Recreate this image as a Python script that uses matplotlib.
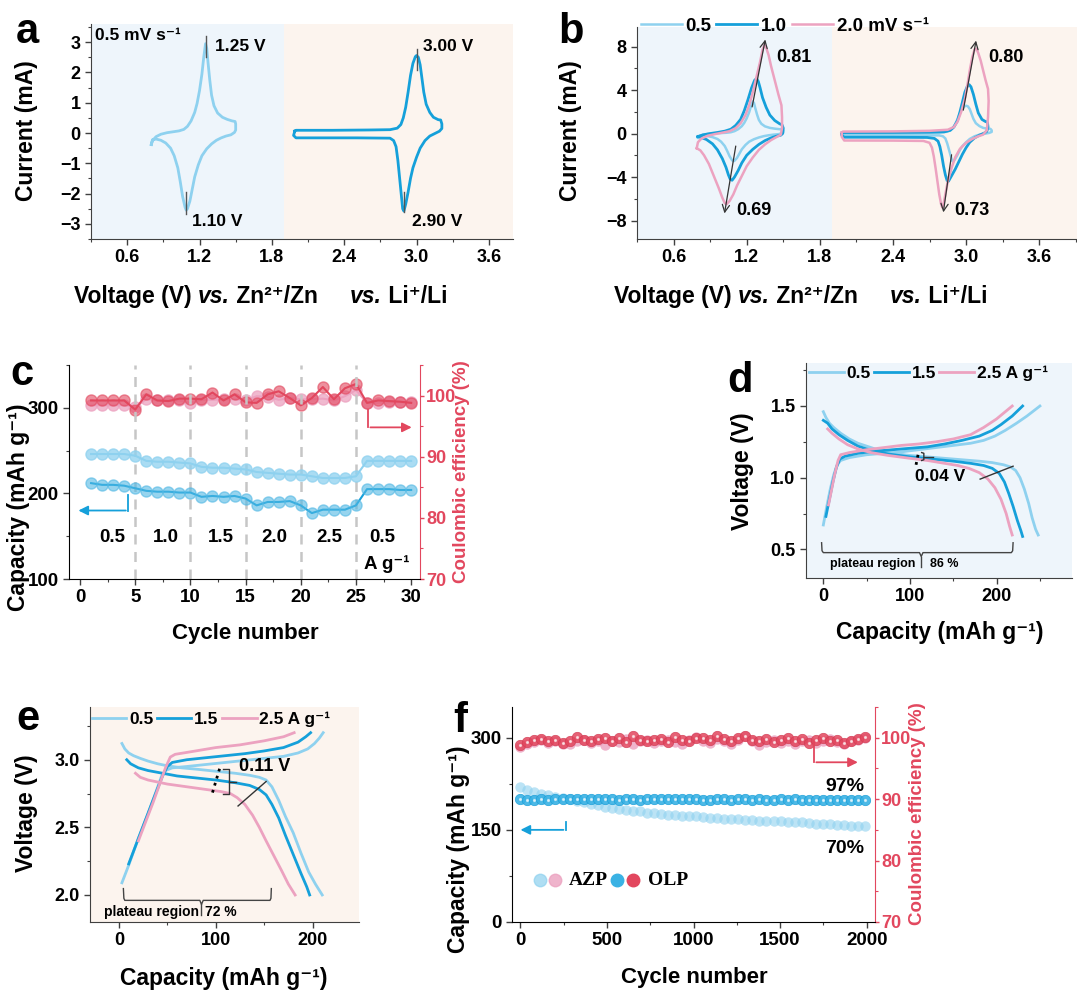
import numpy as np
import matplotlib
matplotlib.use('Agg')
import matplotlib.pyplot as plt
from matplotlib.ticker import MultipleLocator

plt.rcParams['font.family'] = ['Liberation Sans', 'DejaVu Sans']
plt.rcParams['font.weight'] = 'bold'
plt.rcParams['axes.labelweight'] = 'bold'

NARROW = ['Liberation Sans Narrow', 'Liberation Sans', 'DejaVu Sans']
LBLUE = '#8ed1ef'
BLUE = '#15a0da'
PINK = '#eca2c0'
RED = '#e2475e'
BG_BLUE = '#eef5fb'
BG_PEACH = '#fcf4ee'
SPINE = '#404040'

# ---------------- data ----------------
# (a)/(b) CV at 0.5 mV/s, (V, mA)
cv_zn_05 = [(0.80, -0.38), (0.81, -0.25), (0.84, -0.12), (0.88, -0.04), (0.93, 0.01), (0.98, 0.04),
            (1.03, 0.07), (1.07, 0.12), (1.10, 0.22), (1.13, 0.40), (1.16, 0.68), (1.18, 0.98),
            (1.20, 1.40), (1.22, 1.95), (1.235, 2.50), (1.25, 2.95), (1.26, 2.80), (1.27, 2.35),
            (1.285, 1.75), (1.30, 1.25), (1.32, 0.90), (1.35, 0.66), (1.39, 0.52), (1.43, 0.45),
            (1.47, 0.40), (1.495, 0.38), (1.50, 0.30), (1.50, 0.10), (1.49, 0.02), (1.46, -0.06),
            (1.42, -0.10), (1.38, -0.16), (1.34, -0.24), (1.30, -0.36), (1.26, -0.52), (1.22, -0.75),
            (1.19, -1.05), (1.16, -1.45), (1.14, -1.85), (1.12, -2.25), (1.10, -2.50), (1.09, -2.55),
            (1.08, -2.45), (1.06, -2.10), (1.04, -1.60), (1.02, -1.15), (0.99, -0.75), (0.96, -0.50),
            (0.92, -0.33), (0.88, -0.24), (0.84, -0.20), (0.81, -0.22), (0.80, -0.38)]
cv_li_05 = [(1.99, 0.06), (2.00, 0.09), (2.30, 0.09), (2.60, 0.10), (2.78, 0.11), (2.84, 0.16),
            (2.87, 0.28), (2.89, 0.50), (2.91, 0.85), (2.93, 1.35), (2.95, 1.90), (2.97, 2.30),
            (2.99, 2.52), (3.00, 2.56), (3.015, 2.50), (3.03, 2.25), (3.045, 1.80), (3.06, 1.35),
            (3.08, 0.95), (3.11, 0.68), (3.14, 0.52), (3.18, 0.44), (3.20, 0.43), (3.21, 0.30),
            (3.21, 0.15), (3.19, 0.06), (3.15, -0.02), (3.11, -0.10), (3.07, -0.25), (3.03, -0.50),
            (3.00, -0.80), (2.97, -1.15), (2.95, -1.50), (2.93, -1.95), (2.91, -2.35), (2.895, -2.58),
            (2.885, -2.50), (2.875, -2.10), (2.86, -1.50), (2.845, -0.90), (2.83, -0.45), (2.81, -0.25),
            (2.78, -0.17), (2.50, -0.16), (2.20, -0.16), (2.00, -0.16), (1.98, -0.08), (1.99, 0.06)]
# (b) CV at 1.0 and 2.0 mV/s
cv_zn_10 = [(0.80, -0.28), (0.84, -0.12), (0.90, 0.00), (0.96, 0.10), (1.02, 0.22), (1.07, 0.40),
            (1.11, 0.75), (1.15, 1.30), (1.18, 2.10), (1.21, 3.10), (1.24, 4.20), (1.265, 4.90),
            (1.28, 5.05), (1.295, 4.80), (1.31, 4.20), (1.33, 3.30), (1.36, 2.40), (1.39, 1.70),
            (1.43, 1.20), (1.47, 0.90), (1.49, 0.80), (1.50, 0.50), (1.495, 0.00), (1.48, -0.15),
            (1.44, -0.25), (1.40, -0.40), (1.35, -0.65), (1.30, -1.00), (1.25, -1.45), (1.20, -2.00),
            (1.16, -2.70), (1.13, -3.40), (1.10, -4.00), (1.08, -4.30), (1.065, -4.20), (1.05, -3.80),
            (1.03, -3.10), (1.00, -2.30), (0.96, -1.50), (0.92, -0.95), (0.87, -0.55), (0.83, -0.38),
            (0.80, -0.28)]
cv_zn_20 = [(0.79, -1.35), (0.80, -0.80), (0.83, -0.45), (0.88, -0.20), (0.94, -0.05), (1.00, 0.08),
            (1.06, 0.22), (1.11, 0.50), (1.15, 0.95), (1.19, 1.70), (1.22, 2.60), (1.25, 3.80),
            (1.28, 5.20), (1.31, 6.60), (1.33, 7.70), (1.345, 8.15), (1.36, 7.90), (1.38, 7.20),
            (1.40, 6.20), (1.43, 4.90), (1.46, 3.60), (1.485, 2.60), (1.49, 1.50), (1.49, 0.50),
            (1.48, -0.10), (1.44, -0.35), (1.40, -0.60), (1.35, -1.00), (1.30, -1.50), (1.25, -2.20),
            (1.20, -3.00), (1.16, -3.90), (1.12, -4.80), (1.09, -5.60), (1.06, -6.20), (1.035, -6.50),
            (1.02, -6.40), (1.00, -5.90), (0.97, -5.00), (0.93, -3.90), (0.89, -2.80), (0.85, -2.00),
            (0.82, -1.55), (0.79, -1.35)]
cv_li_10 = [(1.98, 0.03), (1.99, 0.09), (2.40, 0.10), (2.70, 0.12), (2.82, 0.15), (2.87, 0.30),
            (2.90, 0.60), (2.93, 1.20), (2.95, 2.00), (2.97, 2.90), (2.99, 3.80), (3.01, 4.35),
            (3.025, 4.50), (3.04, 4.30), (3.06, 3.60), (3.08, 2.70), (3.10, 1.90), (3.13, 1.30),
            (3.16, 1.10), (3.175, 1.05), (3.18, 0.60), (3.17, 0.20), (3.15, 0.05), (3.11, -0.15),
            (3.07, -0.40), (3.03, -0.80), (3.00, -1.30), (2.97, -1.90), (2.94, -2.60), (2.91, -3.30),
            (2.88, -3.90), (2.855, -4.40), (2.845, -4.35), (2.83, -3.80), (2.815, -3.00), (2.80, -2.00),
            (2.785, -1.20), (2.77, -0.70), (2.74, -0.45), (2.68, -0.36), (2.40, -0.34), (2.00, -0.34),
            (1.98, -0.15), (1.98, 0.03)]
cv_li_20 = [(1.98, 0.10), (1.99, 0.18), (2.40, 0.20), (2.70, 0.25), (2.85, 0.35), (2.90, 0.60),
            (2.93, 1.10), (2.96, 2.00), (2.99, 3.20), (3.01, 4.40), (3.03, 5.80), (3.05, 7.00),
            (3.07, 7.75), (3.085, 7.80), (3.10, 7.40), (3.12, 6.70), (3.14, 5.80), (3.16, 4.90),
            (3.18, 4.10), (3.185, 3.00), (3.18, 1.50), (3.17, 0.30), (3.14, -0.10), (3.10, -0.25),
            (3.05, -0.50), (3.00, -0.85), (2.95, -1.40), (2.91, -2.20), (2.88, -3.20), (2.85, -4.40),
            (2.83, -5.60), (2.815, -6.50), (2.805, -6.80), (2.795, -6.50), (2.78, -5.60), (2.765, -4.40),
            (2.75, -3.20), (2.735, -2.10), (2.72, -1.30), (2.70, -0.85), (2.65, -0.68), (2.40, -0.65),
            (2.00, -0.64), (1.98, -0.30), (1.98, 0.10)]

# (c) rate performance
rate_cycles = np.arange(1, 31)
cap_azp_c = [246, 246, 246, 246, 244, 238, 237, 237, 236, 235, 231, 230, 230, 229, 228,
             225, 224, 223, 222, 222, 220, 218, 218, 218, 220, 238, 238, 238, 238, 238]
cap_olp_c = [212, 210, 210, 209, 206, 203, 202, 202, 201, 201, 196, 197, 196, 197, 194,
             186, 190, 190, 191, 186, 177, 181, 181, 181, 186, 205, 205, 205, 204, 204]
ce_olp_c = [99.2, 99.2, 99.2, 99.2, 97.7, 100.2, 99.2, 99.1, 99.5, 99.5, 99.4, 100.5, 99.2, 100.2, 98.9,
            98.8, 100.2, 100.7, 99.6, 98.4, 99.6, 101.4, 99.4, 101.2, 101.9, 98.8, 99.2, 99.1, 99.0, 98.8]
ce_azp_c = [98.4, 98.4, 98.4, 98.4, 98.1, 99.4, 99.2, 99.2, 99.2, 98.8, 99.3, 99.3, 99.4, 99.4, 99.2,
            99.9, 99.8, 99.3, 99.6, 99.4, 99.4, 99.5, 99.2, 99.9, 100.9, 98.8, 98.8, 98.9, 98.9, 98.9]
rate_labels = ['0.5', '1.0', '1.5', '2.0', '2.5', '0.5']
rate_label_x = [2.95, 7.8, 12.75, 17.6, 22.6, 27.4]

# (d) GCD vs Zn, (mAh/g, V)
d_dis = {
    '0.5': [(0, 1.46), (3, 1.42), (7, 1.38), (12, 1.35), (20, 1.31), (30, 1.27), (40, 1.24), (50, 1.22),
            (65, 1.19), (80, 1.17), (100, 1.155), (120, 1.145), (140, 1.135), (160, 1.125), (180, 1.115),
            (195, 1.105), (208, 1.09), (216, 1.075), (222, 1.05), (227, 1.00), (232, 0.92), (237, 0.82),
            (241, 0.72), (245, 0.64), (248, 0.60)],
    '1.5': [(0, 1.40), (5, 1.38), (10, 1.34), (18, 1.30), (28, 1.26), (40, 1.22), (55, 1.19), (75, 1.165),
            (100, 1.145), (125, 1.13), (150, 1.115), (170, 1.10), (185, 1.085), (195, 1.065), (203, 1.03),
            (209, 0.97), (214, 0.89), (219, 0.80), (224, 0.70), (228, 0.63), (230, 0.59)],
    '2.5': [(5, 1.34), (10, 1.31), (18, 1.27), (28, 1.23), (40, 1.20), (55, 1.175), (75, 1.155),
            (100, 1.135), (120, 1.12), (140, 1.10), (155, 1.085), (168, 1.065), (180, 1.035), (190, 0.99),
            (198, 0.93), (205, 0.85), (211, 0.75), (215, 0.66), (218, 0.60)],
}
d_chg = {
    '0.5': [(0, 0.67), (4, 0.80), (8, 0.92), (12, 1.02), (16, 1.09), (20, 1.12), (30, 1.14), (50, 1.16),
            (70, 1.17), (90, 1.18), (110, 1.195), (130, 1.21), (150, 1.225), (170, 1.24), (185, 1.26),
            (198, 1.29), (210, 1.33), (223, 1.38), (235, 1.43), (250, 1.50)],
    '1.5': [(3, 0.73), (7, 0.85), (11, 0.97), (15, 1.07), (19, 1.13), (25, 1.15), (40, 1.17), (60, 1.185),
            (80, 1.195), (100, 1.205), (120, 1.215), (140, 1.235), (160, 1.26), (180, 1.29), (195, 1.33),
            (205, 1.37), (218, 1.43), (230, 1.50)],
    '2.5': [(6, 0.81), (9, 0.90), (13, 1.02), (17, 1.12), (20, 1.16), (30, 1.175), (50, 1.195), (70, 1.21),
            (90, 1.225), (110, 1.235), (130, 1.25), (150, 1.27), (170, 1.30), (185, 1.35), (200, 1.41),
            (210, 1.46), (218, 1.50)],
}
# (e) GCD vs Li
e_dis = {
    '0.5': [(3, 3.12), (6, 3.08), (10, 3.05), (15, 3.03), (22, 3.01), (30, 2.99), (40, 2.97), (50, 2.955),
            (65, 2.94), (80, 2.93), (100, 2.915), (120, 2.90), (135, 2.885), (145, 2.87), (152, 2.85),
            (158, 2.80), (165, 2.70), (172, 2.58), (180, 2.46), (188, 2.31), (196, 2.17), (203, 2.08),
            (210, 2.00)],
    '1.5': [(8, 3.00), (12, 2.97), (20, 2.94), (30, 2.92), (45, 2.90), (60, 2.88), (80, 2.865), (100, 2.85),
            (120, 2.83), (135, 2.81), (145, 2.78), (152, 2.74), (158, 2.67), (165, 2.57), (172, 2.44),
            (180, 2.30), (188, 2.16), (194, 2.06), (197, 2.00)],
    '2.5': [(17, 2.90), (22, 2.87), (30, 2.85), (40, 2.835), (50, 2.82), (70, 2.80), (90, 2.78),
            (105, 2.765), (115, 2.75), (122, 2.72), (130, 2.67), (138, 2.59), (145, 2.50), (152, 2.40),
            (160, 2.29), (168, 2.18), (175, 2.08), (182, 2.00)],
}
e_chg = {
    '0.5': [(3, 2.09), (10, 2.22), (20, 2.42), (30, 2.60), (38, 2.76), (44, 2.88), (48, 2.92), (55, 2.94),
            (70, 2.95), (90, 2.965), (110, 2.98), (130, 2.995), (150, 3.01), (170, 3.025), (185, 3.05),
            (195, 3.08), (202, 3.12), (207, 3.16), (211, 3.20)],
    '1.5': [(10, 2.23), (18, 2.38), (26, 2.53), (34, 2.68), (40, 2.79), (45, 2.88), (50, 2.95), (55, 2.98),
            (70, 3.00), (90, 3.015), (110, 3.03), (130, 3.045), (150, 3.065), (170, 3.09), (185, 3.13),
            (193, 3.17), (198, 3.20)],
    '2.5': [(20, 2.40), (28, 2.55), (35, 2.68), (42, 2.82), (48, 2.94), (53, 3.02), (58, 3.04), (75, 3.06),
            (100, 3.09), (125, 3.11), (150, 3.14), (170, 3.17), (181, 3.20)],
}
gcd_colors = {'0.5': LBLUE, '1.5': BLUE, '2.5': PINK}

# (f) long cycling
long_cycles = np.linspace(0, 1990, 50)
cap_azp_f = [219, 215, 212, 209, 206, 204, 202, 200, 197, 195, 192, 190, 187, 185, 184, 182, 181,
             180, 178, 177, 176, 175, 174, 173, 172, 172, 171, 170, 169, 168, 168, 167, 166, 166,
             165, 165, 164, 164, 163, 162, 162, 161, 160, 160, 159, 158, 158, 157, 156, 156]
cap_olp_f = [200, 199, 199, 200, 199, 200, 201, 200, 200, 201, 200, 200, 201, 200, 199, 200, 200,
             199, 200, 201, 201, 200, 200, 201, 200, 200, 199, 199, 200, 200, 199, 200, 200, 199,
             200, 199, 199, 200, 199, 200, 199, 199, 198, 199, 199, 198, 199, 198, 199, 199]
ce_olp_f = [98.8, 99.3, 99.6, 99.8, 99.4, 99.7, 99.2, 99.5, 100.1, 99.6, 99.4, 99.8, 100.0, 99.5,
            99.9, 99.3, 100.2, 99.7, 99.4, 99.6, 99.8, 99.3, 100.1, 99.7, 99.5, 99.9, 100.0, 99.6,
            100.2, 99.8, 99.4, 99.9, 100.3, 99.7, 99.5, 99.8, 99.3, 99.7, 100.0, 99.4, 99.8, 99.2,
            99.7, 99.9, 99.4, 99.6, 99.1, 99.5, 99.8, 100.1]
ce_azp_f = [98.5, 99.0, 99.3, 99.6, 99.2, 99.5, 99.0, 98.9, 99.4, 99.7, 99.1, 99.4, 98.8, 99.5,
            99.3, 99.8, 99.0, 99.5, 99.6, 99.2, 99.4, 99.7, 99.3, 99.0, 99.6, 100.1, 99.4, 99.2,
            99.8, 99.5, 99.0, 99.7, 100.2, 99.5, 98.8, 99.3, 99.6, 99.2, 99.5, 99.0, 99.4, 99.7,
            99.1, 99.5, 99.8, 99.3, 99.0, 99.4, 99.6, 99.9]

# ---------------- figure ----------------
W, H = 1077, 992
fig = plt.figure(figsize=(W / 100, H / 100), dpi=100)
renderer = fig.canvas.get_renderer()
LABEL = 16.5
TICK = 13


def box(l, t, r, b):
    return [l / W, 1 - b / H, (r - l) / W, (b - t) / H]


def ftext(x, y, s, **kw):
    return fig.text(x / W, 1 - y / H, s, **kw)


def rich(x, y, pieces, size):
    # pieces of text laid side by side, some italic
    for s, style_ in pieces:
        t = ftext(x, y, s, fontsize=size, va='center', style=style_)
        x += t.get_window_extent(renderer=renderer).width


def style(ax, spines=('left', 'bottom'), size=TICK, family=None):
    for s in ax.spines:
        ax.spines[s].set_visible(s in spines)
        ax.spines[s].set_color(SPINE)
    ax.tick_params(which='major', direction='out', length=4, width=1, color=SPINE, labelsize=size, pad=3.5)
    ax.tick_params(which='minor', direction='out', length=2.5, width=0.8, color=SPINE)
    if family:
        for lab in ax.get_xticklabels() + ax.get_yticklabels():
            lab.set_family(family)


def red_axis(ax2):
    ax2.spines['right'].set_color(RED)
    ax2.tick_params(axis='y', which='both', colors=RED, pad=1.5)
    ax2.tick_params(axis='y', which='major', length=3)
    ax2.tick_params(axis='y', which='minor', length=2)


def xy(pts):
    a = np.array(pts)
    return a[:, 0], a[:, 1]


VLAB = [('Voltage (V) ', 'normal'), ('vs.', 'italic'), (' Zn²⁺/Zn     ', 'normal'),
        ('vs.', 'italic'), (' Li⁺/Li', 'normal')]
CAPLAB = 'Capacity (mAh g⁻¹)'

# ---- a ----
ax = fig.add_axes(box(91, 24, 513, 239))
ax.axvspan(0.3, 1.9, color=BG_BLUE, lw=0, zorder=0)
ax.axvspan(1.9, 3.8, color=BG_PEACH, lw=0, zorder=0)
ax.plot(*xy(cv_zn_05), color=LBLUE, lw=2)
ax.plot(*xy(cv_li_05), color=BLUE, lw=2)
ax.set_xlim(0.3, 3.8)
ax.set_ylim(-3.5, 3.6)
ax.set_xticks([0.6, 1.2, 1.8, 2.4, 3.0, 3.6])
ax.set_xticklabels(['0.6', '1.2', '1.8', '2.4', '3.0', '3.6'])
ax.xaxis.set_minor_locator(MultipleLocator(0.3))
ax.yaxis.set_major_locator(MultipleLocator(1))
ax.yaxis.set_minor_locator(MultipleLocator(0.5))
style(ax)
for (x0, y0, y1) in [(1.25, 2.5, 3.22), (1.087, -1.96, -2.67), (3.0, 2.07, 2.78), (2.895, -1.96, -2.62)]:
    ax.plot([x0, x0], [y0, y1], color='#555555', lw=1)
ax.text(0.33, 3.22, '0.5 mV s⁻¹', fontsize=12.5, va='center')
ax.text(1.33, 2.86, '1.25 V', fontsize=12.5, va='center')
ax.text(1.14, -2.92, '1.10 V', fontsize=12.5, va='center')
ax.text(3.05, 2.86, '3.00 V', fontsize=12.5, va='center')
ax.text(2.96, -2.92, '2.90 V', fontsize=12.5, va='center')
ftext(16, 43, 'a', fontsize=30)
ftext(26, 131, 'Current (mA)', fontsize=LABEL, rotation=90, ha='center', va='center')
rich(74, 297, VLAB, LABEL)

# ---- b ----
ax = fig.add_axes(box(637, 27, 1077, 239))
ax.axvspan(0.3, 1.9, color=BG_BLUE, lw=0, zorder=0)
ax.axvspan(1.9, 3.91, color=BG_PEACH, lw=0, zorder=0)
l1, = ax.plot(*xy(cv_zn_05), color=LBLUE, lw=1.8)
ax.plot(*xy(cv_li_05), color=LBLUE, lw=1.8)
l2, = ax.plot(*xy(cv_zn_10), color=BLUE, lw=2)
ax.plot(*xy(cv_li_10), color=BLUE, lw=2)
l3, = ax.plot(*xy(cv_zn_20), color=PINK, lw=1.8)
ax.plot(*xy(cv_li_20), color=PINK, lw=1.8)
ax.set_xlim(0.3, 3.91)
ax.set_ylim(-9.7, 9.8)
ax.set_xticks([0.6, 1.2, 1.8, 2.4, 3.0, 3.6])
ax.set_xticklabels(['0.6', '1.2', '1.8', '2.4', '3.0', '3.6'])
ax.xaxis.set_minor_locator(MultipleLocator(0.3))
ax.yaxis.set_major_locator(MultipleLocator(4))
ax.yaxis.set_minor_locator(MultipleLocator(2))
style(ax)
arr = dict(arrowstyle='->', color='#333333', lw=0.9, mutation_scale=13)
ax.annotate('', xy=(1.357, 8.9), xytext=(1.24, 2.2), arrowprops=arr)
ax.annotate('', xy=(1.014, -7.6), xytext=(1.114, -0.9), arrowprops=arr)
ax.annotate('', xy=(3.086, 8.8), xytext=(2.973, 1.9), arrowprops=arr)
ax.annotate('', xy=(2.81, -7.5), xytext=(2.884, -1.7), arrowprops=arr)
ax.text(1.44, 7.0, '0.81', fontsize=13, va='center')
ax.text(1.114, -7.1, '0.69', fontsize=13, va='center')
ax.text(3.18, 7.0, '0.80', fontsize=13, va='center')
ax.text(2.90, -7.1, '0.73', fontsize=13, va='center')
ax.legend([l1, l2, l3], ['0.5', '1.0', '2.0 mV s⁻¹'], loc='center left',
          bbox_to_anchor=(0.008, 1.005), ncol=3, frameon=False, fontsize=13.5,
          handlelength=2.2, handletextpad=0.2, columnspacing=0.25, borderpad=0, borderaxespad=0)
ftext(558, 43, 'b', fontsize=30)
ftext(570, 131, 'Current (mA)', fontsize=LABEL, rotation=90, ha='center', va='center')
rich(614, 297, VLAB, LABEL)

# ---- c ----
ax = fig.add_axes(box(69, 365, 420, 579))
ax2 = ax.twinx()
ax.set_zorder(2)
ax.patch.set_visible(False)
for xv in [5, 10, 15, 20, 25]:
    ax.axvline(xv, color='#c6c6c6', ls=(0, (4, 3)), lw=1.8, zorder=0)
ax.plot(rate_cycles, cap_azp_c, color=LBLUE, lw=1.5)
ax.plot(rate_cycles, cap_azp_c, 'o', color=LBLUE, ms=8, alpha=0.75)
ax.plot(rate_cycles, cap_olp_c, color=BLUE, lw=1.5)
ax.plot(rate_cycles, cap_olp_c, 'o', color='#52b8e4', ms=8, alpha=0.6)
ax2.plot(rate_cycles, ce_azp_c, color=PINK, lw=1.5)
ax2.plot(rate_cycles, ce_azp_c, 'o', color=PINK, ms=8, alpha=0.75)
ax2.plot(rate_cycles, ce_olp_c, color=RED, lw=1.5)
ax2.plot(rate_cycles, ce_olp_c, 'o', color=RED, ms=8, alpha=0.6)
ax.set_xlim(-1, 30.8)
ax.set_ylim(100, 350)
ax2.set_ylim(70, 105)
ax.xaxis.set_major_locator(MultipleLocator(5))
ax.xaxis.set_minor_locator(MultipleLocator(2.5))
ax.set_yticks([100, 200, 300])
ax.yaxis.set_minor_locator(MultipleLocator(50))
ax2.set_yticks([70, 80, 90, 100])
ax2.yaxis.set_minor_locator(MultipleLocator(5))
style(ax, size=13.5, family=NARROW)
style(ax2, spines=('right',), size=13, family=NARROW)
ax.spines['left'].set_color('black')
ax.spines['bottom'].set_color('black')
red_axis(ax2)
ax.plot([4.35, 4.35], [198, 180], color=BLUE, lw=1.3)
ax.annotate('', xy=(-0.4, 180), xytext=(4.4, 180),
            arrowprops=dict(arrowstyle='-|>', color=BLUE, lw=1.3, mutation_scale=14))
ax2.plot([26.1, 26.1], [97.6, 94.8], color=RED, lw=1.3)
ax2.annotate('', xy=(30.3, 94.8), xytext=(26.05, 94.8),
             arrowprops=dict(arrowstyle='-|>', color=RED, lw=1.3, mutation_scale=14))
for lx, lt in zip(rate_label_x, rate_labels):
    ax.text(lx, 149, lt, fontsize=13.5, ha='center', va='center', family=NARROW)
ax.text(27.8, 118, 'A g⁻¹', fontsize=13.5, ha='center', va='center')
ftext(10, 385, 'c', fontsize=30)
ftext(19, 507, CAPLAB, fontsize=LABEL, rotation=90, ha='center', va='center')
ftext(462, 472, 'Coulombic efficiency (%)', fontsize=13.5, rotation=90, ha='center', va='center', color=RED)
ftext(245, 633, 'Cycle number', fontsize=16, ha='center', va='center', family=NARROW)

# ---- d ----
ax = fig.add_axes(box(806, 363, 1072, 578))
ax.set_facecolor(BG_BLUE)
hd = []
for k in ['0.5', '1.5', '2.5']:
    h, = ax.plot(*xy(d_dis[k]), color=gcd_colors[k], lw=2)
    ax.plot(*xy(d_chg[k]), color=gcd_colors[k], lw=2)
    hd.append(h)
ax.set_xlim(-20, 287)
ax.set_ylim(0.3, 1.8)
ax.set_xticks([0, 100, 200])
ax.xaxis.set_minor_locator(MultipleLocator(50))
ax.set_yticks([0.5, 1.0, 1.5])
ax.yaxis.set_minor_locator(MultipleLocator(0.25))
style(ax)
ax.plot([107, 110], [1.09, 1.18], color='black', ls=':', lw=2)
ax.plot([113.5, 116, 116, 113.5], [1.175, 1.17, 1.125, 1.12], color='#333333', lw=1)
ax.plot([116, 126], [1.147, 1.147], color='#333333', lw=1)
ax.plot([181, 219], [0.99, 1.08], color='#333333', lw=1)
ax.text(106, 1.01, '0.04 V', fontsize=12.5, va='center')
ax.plot([-2, -1.5, 0, 111, 113, 115, 217, 218.5, 219], [0.546, 0.49, 0.477, 0.477, 0.45, 0.477, 0.477, 0.49, 0.546],
        color='#444444', lw=1)
ax.plot([113, 113], [0.45, 0.375], color='#444444', lw=1)
ax.text(57, 0.40, 'plateau region', fontsize=9, ha='center', va='center')
ax.text(140, 0.40, '86 %', fontsize=9, ha='center', va='center')
ax.legend(hd, ['0.5', '1.5', '2.5 A g⁻¹'], loc='center left', bbox_to_anchor=(0.012, 0.953),
          ncol=3, frameon=False, fontsize=12.5, handlelength=2.0, handletextpad=0.15,
          columnspacing=0.2, borderpad=0, borderaxespad=0)
ftext(727, 392, 'd', fontsize=30)
ftext(742, 471, 'Voltage (V)', fontsize=LABEL, rotation=90, ha='center', va='center')
ftext(940, 633, CAPLAB, fontsize=LABEL, ha='center', va='center')

# ---- e ----
ax = fig.add_axes(box(90, 707, 359, 922))
ax.set_facecolor(BG_PEACH)
he = []
for k in ['0.5', '1.5', '2.5']:
    h, = ax.plot(*xy(e_dis[k]), color=gcd_colors[k], lw=2)
    ax.plot(*xy(e_chg[k]), color=gcd_colors[k], lw=2)
    he.append(h)
ax.set_xlim(-30, 248)
ax.set_ylim(1.8, 3.39)
ax.set_xticks([0, 100, 200])
ax.xaxis.set_minor_locator(MultipleLocator(50))
ax.set_yticks([2.0, 2.5, 3.0])
ax.yaxis.set_minor_locator(MultipleLocator(0.25))
style(ax)
ax.plot([96.6, 104.1], [2.757, 2.938], color='black', ls=':', lw=2)
ax.plot([107.6, 113.7, 113.7, 107.6], [2.931, 2.931, 2.745, 2.745], color='#333333', lw=1)
ax.plot([113.7, 120.6], [2.839, 2.839], color='#333333', lw=1)
ax.plot([123, 152], [2.658, 2.839], color='#333333', lw=1)
ax.text(124, 2.95, '0.11 V', fontsize=13, va='center')
ax.plot([4.5, 5, 6, 83.5, 85.2, 87, 156, 157, 157.4], [2.047, 1.975, 1.96, 1.96, 1.93, 1.96, 1.96, 1.975, 2.047],
        color='#444444', lw=1)
ax.plot([85.2, 85.2], [1.93, 1.85], color='#444444', lw=1)
ax.text(34, 1.874, 'plateau region', fontsize=10, ha='center', va='center')
ax.text(105, 1.874, '72 %', fontsize=10, ha='center', va='center')
ax.legend(he, ['0.5', '1.5', '2.5 A g⁻¹'], loc='center left', bbox_to_anchor=(0.006, 0.944),
          ncol=3, frameon=False, fontsize=12.5, handlelength=2.0, handletextpad=0.15,
          columnspacing=0.2, borderpad=0, borderaxespad=0)
ftext(16, 730, 'e', fontsize=30)
ftext(26, 813, 'Voltage (V)', fontsize=LABEL, rotation=90, ha='center', va='center')
ftext(224, 978, CAPLAB, fontsize=LABEL, ha='center', va='center')

# ---- f ----
ax = fig.add_axes(box(512, 707, 875, 922))
ax2 = ax.twinx()
ax.set_zorder(2)
ax.patch.set_visible(False)
ax.plot(long_cycles, cap_azp_f, 'o', color=LBLUE, ms=7.5, alpha=0.6, mec='none')
ax.plot(long_cycles, cap_olp_f, 'o', color='#3ab2e4', ms=7.5, alpha=0.9, mec='#1a9ed8', mew=0.5)
ax.plot(long_cycles, cap_olp_f, 'o', color='white', ms=1.3, alpha=0.6)
ax2.plot(long_cycles, ce_azp_f, 'o', color=PINK, ms=7.5, alpha=0.8, mec='none')
ax2.plot(long_cycles, ce_olp_f, 'o', color=RED, ms=7.5, alpha=0.85, mec='#d23a52', mew=0.5)
ax2.plot(long_cycles, ce_olp_f, 'o', color='white', ms=1.3, alpha=0.6)
ax.set_xlim(-48, 2048)
ax.set_ylim(0, 350)
ax2.set_ylim(70, 105)
ax.xaxis.set_major_locator(MultipleLocator(500))
ax.xaxis.set_minor_locator(MultipleLocator(250))
ax.set_yticks([0, 150, 300])
ax.yaxis.set_minor_locator(MultipleLocator(75))
ax2.set_yticks([70, 80, 90, 100])
ax2.yaxis.set_minor_locator(MultipleLocator(5))
style(ax, size=13.5, family=NARROW)
style(ax2, spines=('right',), size=13, family=NARROW)
ax.spines['left'].set_color('black')
ax.spines['bottom'].set_color('black')
red_axis(ax2)
ax.plot([263, 263], [163, 150], color=BLUE, lw=1.3)
ax.annotate('', xy=(-15, 150), xytext=(265, 150),
            arrowprops=dict(arrowstyle='-|>', color=BLUE, lw=1.3, mutation_scale=14))
ax2.plot([1696, 1696], [99.2, 96.0], color=RED, lw=1.3)
ax2.annotate('', xy=(1965, 96.0), xytext=(1693, 96.0),
             arrowprops=dict(arrowstyle='-|>', color=RED, lw=1.3, mutation_scale=14))
ax.text(1985, 221, '97%', fontsize=14, ha='right', va='center', family=NARROW)
ax.text(1985, 119, '70%', fontsize=14, ha='right', va='center', family=NARROW)
# legend
ax.plot([115], [68], 'o', color=LBLUE, ms=9, alpha=0.7)
ax.plot([202], [68], 'o', color=PINK, ms=9, alpha=0.8)
ax.text(279, 68, 'AZP', fontsize=14, va='center', family=['Liberation Serif'])
ax.plot([558], [68], 'o', color='#3ab2e4', ms=9)
ax.plot([650], [68], 'o', color=RED, ms=9)
ax.text(740, 68, 'OLP', fontsize=14, va='center', family=['Liberation Serif'])
ftext(453, 732, 'f', fontsize=30)
ftext(459, 849, CAPLAB, fontsize=LABEL, rotation=90, ha='center', va='center')
ftext(917, 814, 'Coulombic efficiency (%)', fontsize=13.5, rotation=90, ha='center', va='center', color=RED)
ftext(694, 977, 'Cycle number', fontsize=16, ha='center', va='center', family=NARROW)

fig.savefig('out.png', dpi=100)
